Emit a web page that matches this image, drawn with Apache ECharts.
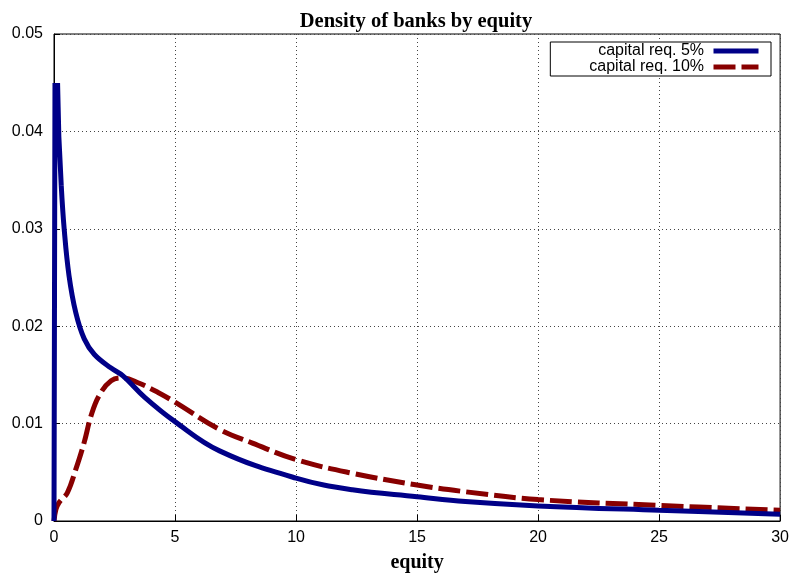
<!DOCTYPE html>
<html>
<head>
<meta charset="utf-8">
<script src="https://cdn.jsdelivr.net/npm/echarts@6/dist/echarts.min.js"></script>
<style>html,body{margin:0;padding:0;background:#fff;}#c{width:792px;height:578px;}</style>
</head>
<body>
<div id="c"></div>
<script>
const titleText = 'Density of banks by equity';
const xName = 'equity';
const seriesNames = ['capital req. 5%', 'capital req. 10%'];

// blue: sharp spike near zero, then smooth decay
const blueSpikeX = [0, 0.04, 0.15, 0.2, 0.3];
const blueSpikeY = [0, 0.0447, 0.0447, 0.0395, 0.0344];
const blueX = [0.3, 0.42, 0.62, 0.9, 1.25, 1.67, 2.36, 2.85, 3.75, 5, 6.84, 10, 12.33, 15, 17, 20, 25, 30];
const blueY = [0.0344, 0.0300, 0.0252, 0.0214, 0.0187, 0.0171, 0.0157, 0.0149, 0.0127, 0.0102, 0.0072, 0.0044, 0.0032, 0.0025, 0.0020, 0.00155, 0.0011, 0.0007];

const redX = [0, 0.08, 0.21, 0.55, 0.9, 1.25, 1.53, 1.87, 2.36, 2.85, 3.47, 4.3, 5, 6.84, 8.2, 10, 12.33, 15, 17, 20, 25, 30];
const redY = [0, 0.0012, 0.0019, 0.0029, 0.0053, 0.0081, 0.0108, 0.0129, 0.0144, 0.0147, 0.0142, 0.0132, 0.0122, 0.0094, 0.0080, 0.0063, 0.0049, 0.0037, 0.0030, 0.0022, 0.0016, 0.0011];

const xTicks = [0, 5, 10, 15, 20, 25, 30];
const yTicks = [0, 0.01, 0.02, 0.03, 0.04, 0.05];

const pairs = (xs, ys) => xs.map((x, i) => [x, ys[i]]);

const chart = echarts.init(document.getElementById('c'), null, {renderer: 'canvas'});
const sans = 'Liberation Sans, Arial, sans-serif';
const serif = 'Liberation Serif, Times New Roman, serif';
const gridLine = {show: true, lineStyle: {color: '#444', type: [1, 3], width: 1}};
const BLUE = '#000088', RED = '#880000';

chart.setOption({
  animation: false,
  backgroundColor: '#fff',
  title: {
    text: titleText, left: 411, top: 6, textAlign: 'center',
    textStyle: {fontFamily: serif, fontWeight: 'bold', fontSize: 20.5, color: '#000'}
  },
  legend: {
    orient: 'vertical', align: 'right', right: 21, top: 42,
    padding: [1, 10, 1, 39], itemGap: 0, itemWidth: 45, itemHeight: 15,
    backgroundColor: '#fff', borderColor: '#000', borderWidth: 1,
    textStyle: {fontFamily: sans, fontSize: 16, color: '#000'},
    formatter: n => n + ' ',
    itemStyle: {opacity: 0},
    data: [
      {name: seriesNames[0], lineStyle: {color: BLUE, width: 5, type: 'solid'}},
      {name: seriesNames[1], lineStyle: {color: RED, width: 5, type: [22, 6]}}
    ]
  },
  grid: {left: 54, right: 11, top: 34, bottom: 56, show: true, borderColor: '#000', borderWidth: 1, backgroundColor: 'transparent'},
  xAxis: {
    type: 'value', min: xTicks[0], max: xTicks[xTicks.length - 1], interval: 5,
    name: xName, nameLocation: 'middle', nameGap: 32,
    nameTextStyle: {fontFamily: serif, fontWeight: 'bold', fontSize: 20, color: '#000'},
    axisLine: {show: true, lineStyle: {color: '#000', width: 1}},
    axisTick: {show: true, inside: true, length: 6, lineStyle: {color: '#000'}},
    axisLabel: {fontFamily: sans, fontSize: 16, color: '#000', margin: 9},
    splitLine: gridLine
  },
  yAxis: {
    type: 'value', min: yTicks[0], max: yTicks[yTicks.length - 1], interval: 0.01,
    axisLine: {show: true, lineStyle: {color: '#000', width: 1}},
    axisTick: {show: true, inside: true, length: 6, lineStyle: {color: '#000'}},
    axisLabel: {fontFamily: sans, fontSize: 16, color: '#000', margin: 11,
      formatter: v => (v === 0 ? '0' : v.toFixed(2))},
    splitLine: gridLine
  },
  series: [
    {
      name: seriesNames[0], type: 'line', data: pairs(blueSpikeX, blueSpikeY),
      showSymbol: false, symbol: 'none', smooth: false,
      lineStyle: {color: BLUE, width: 5, join: 'miter'},
      itemStyle: {color: BLUE}, z: 3
    },
    {
      name: seriesNames[0], type: 'line', data: pairs(blueX, blueY),
      showSymbol: false, symbol: 'none', smooth: 0.4,
      lineStyle: {color: BLUE, width: 5},
      itemStyle: {color: BLUE}, z: 3
    },
    {
      name: seriesNames[1], type: 'line', data: pairs(redX, redY),
      showSymbol: false, symbol: 'none', smooth: 0.4,
      lineStyle: {color: RED, width: 5, type: [22, 6]},
      itemStyle: {color: RED}, z: 2
    }
  ]
});
</script>
</body>
</html>
